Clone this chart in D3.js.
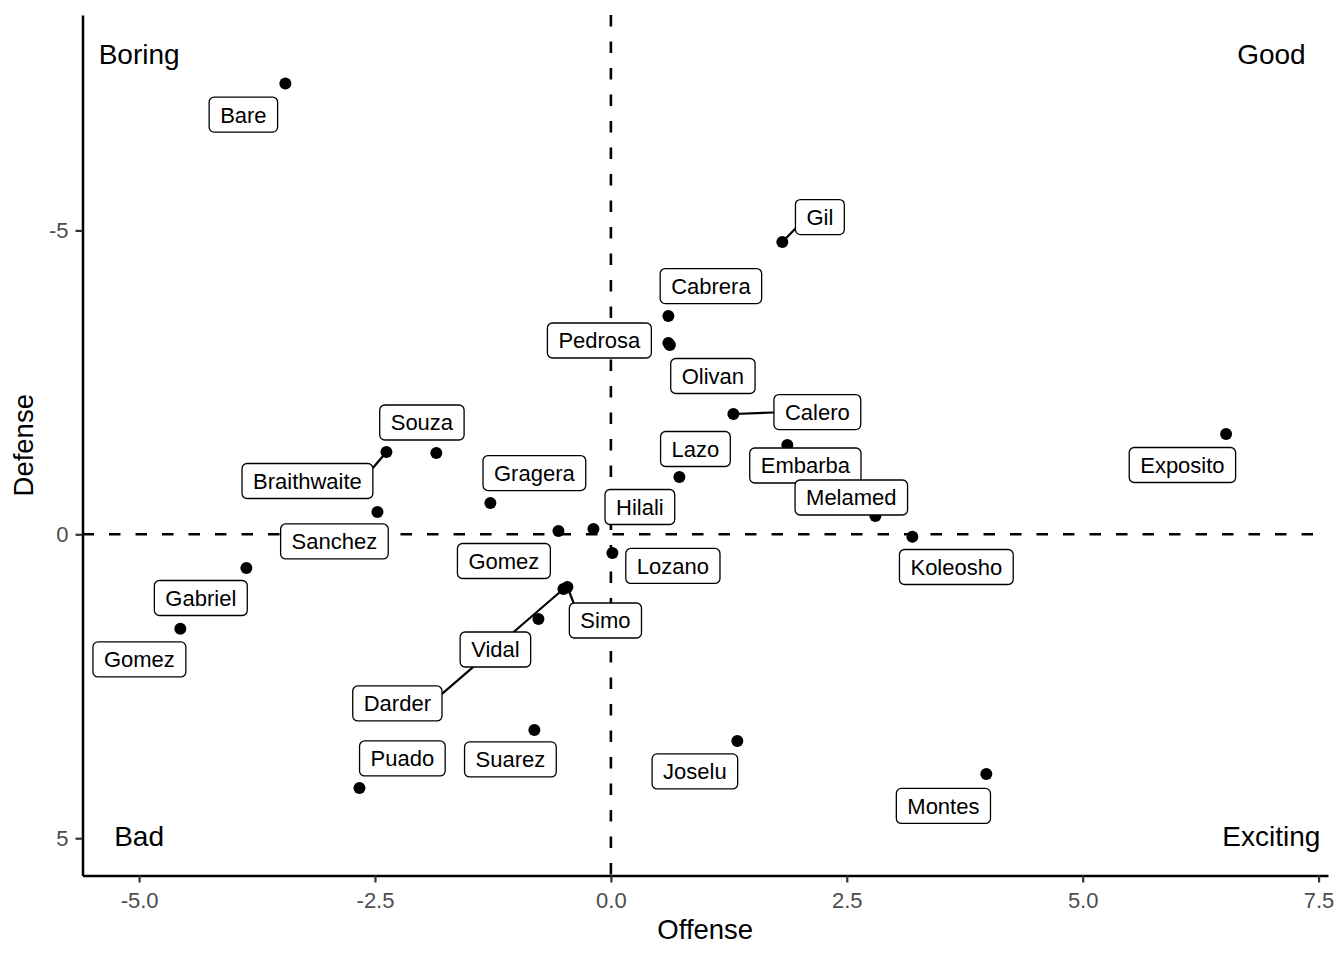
<!DOCTYPE html>
<html>
<head>
<meta charset="utf-8">
<script src="https://cdn.jsdelivr.net/npm/d3@7"></script>
<style>
  html, body { margin: 0; padding: 0; background: #fff; }
  svg { display: block; font-family: "Liberation Sans", Arial, Helvetica, sans-serif; }
</style>
</head>
<body>
<svg id="chart" width="1344" height="960"></svg>
<script>
// ---- data ----
const players = ["Bare","Gil","Cabrera","Pedrosa","Olivan","Calero","Embarba","Exposito","Lazo","Melamed",
  "Koleosho","Souza","Braithwaite","Sanchez","Gragera","Gomez","Hilali","Lozano","Gabriel","Gomez",
  "Darder","Simo","Vidal","Suarez","Puado","Joselu","Montes"];
const offense = [-3.450, 1.817, 0.609, 0.609, 0.625, 1.298, 1.870, 6.520, 0.726, 2.803,
  3.195, -1.850, -2.379, -2.474, -1.277, -0.556, -0.185, 0.016, -3.863, -4.563,
  -0.503, -0.461, -0.768, -0.811, -2.665, 1.340, 3.979];
const defense = [-7.418, -4.808, -3.590, -3.146, -3.113, -1.979, -1.469, -1.650, -0.942, -0.301,
  0.040, -1.337, -1.354, -0.367, -0.515, -0.054, -0.087, 0.308, 0.554, 1.554,
  0.900, 0.867, 1.393, 3.219, 4.173, 3.400, 3.943];
// repelled label centres (data units)
const labelOffense = [-3.895, 2.215, 1.060, -0.122, 1.081, 2.188, 2.061, 6.057, 0.896, 2.548,
  3.661, -2.003, -3.216, -2.930, -0.811, -1.134, 0.307, 0.657, -4.346, -4.997,
  -2.263, -0.058, -1.224, -1.065, -2.210, 0.890, 3.524];
const labelDefense = [-6.905, -5.219, -4.084, -3.188, -2.604, -2.011, -1.132, -1.140, -1.403, -0.605,
  0.538, -1.839, -0.877, 0.118, -1.008, 0.439, -0.449, 0.521, 1.048, 2.059,
  2.783, 1.418, 1.895, 3.704, 3.688, 3.901, 4.469];
const segmentPlayers = ["Gil","Calero","Braithwaite","Darder","Simo"];

const quadrantLabels = ["Boring","Good","Bad","Exciting"];
const quadrantX = [-5, 7, -5, 7];
const quadrantY = [-7.9, -7.9, 4.97, 4.97];

const xTicks = [-5, -2.5, 0, 2.5, 5, 7.5];
const yTicks = [-5, 0, 5];
const xTitle = "Offense";
const yTitle = "Defense";

// ---- layout ----
const panel = { left: 82.5, right: 1328, top: 15, bottom: 875.5 };
const svg = d3.select("#chart");

const x = d3.scaleLinear().domain([-5.6, 7.6]).range([panel.left, panel.right]);
const y = d3.scaleLinear().domain([-8.5435, 5.6135]).range([panel.top, panel.bottom]);

// reference lines
svg.append("line")
  .attr("x1", x(0)).attr("x2", x(0)).attr("y1", panel.top).attr("y2", panel.bottom)
  .attr("stroke", "#000").attr("stroke-width", 2.6).attr("stroke-dasharray", "11.5,15");
svg.append("line")
  .attr("x1", panel.left).attr("x2", panel.right).attr("y1", y(0)).attr("y2", y(0))
  .attr("stroke", "#000").attr("stroke-width", 2.6).attr("stroke-dasharray", "11.5,15");

// quadrant annotations
svg.append("g").selectAll("text").data(quadrantLabels).join("text")
  .attr("x", (d, i) => x(quadrantX[i]))
  .attr("y", (d, i) => y(quadrantY[i]))
  .attr("dy", "0.36em")
  .attr("text-anchor", "middle")
  .attr("font-size", 28)
  .attr("fill", "#000")
  .text(d => d);

// points
const idx = d3.range(players.length);
svg.append("g").selectAll("circle").data(idx).join("circle")
  .attr("cx", i => x(offense[i]))
  .attr("cy", i => y(defense[i]))
  .attr("r", 6)
  .attr("fill", "#000");

// labels
const labelG = svg.append("g");
idx.forEach(i => {
  const cx = x(labelOffense[i]), cy = y(labelDefense[i]);
  const g = labelG.append("g");
  const seg = g.append("line");
  const rect = g.append("rect");
  const t = g.append("text")
    .attr("x", cx).attr("y", cy).attr("dy", "0.36em")
    .attr("text-anchor", "middle")
    .attr("font-size", 22)
    .attr("fill", "#000")
    .text(players[i]);
  const tw = t.node().getComputedTextLength();
  const pad = 11;
  const w = tw + 2 * pad, h = 35;
  const x0 = cx - w / 2, x1 = cx + w / 2, y0 = cy - h / 2, y1 = cy + h / 2;
  rect.attr("x", x0).attr("y", y0).attr("width", w).attr("height", h)
    .attr("rx", 5).attr("ry", 5)
    .attr("fill", "#fff").attr("stroke", "#000").attr("stroke-width", 1.3);
  if (segmentPlayers.includes(players[i])) {
    const px = x(offense[i]), py = y(defense[i]);
    // aim at the nearest point of the text's centre line, clip at the box border
    const tx = Math.max(x0 + pad, Math.min(x1 - pad, px));
    const ty = cy;
    const dx = tx - px, dy = ty - py;
    let tmin = 1;
    const cand = [];
    if (dx !== 0) { cand.push((x0 - px) / dx, (x1 - px) / dx); }
    if (dy !== 0) { cand.push((y0 - py) / dy, (y1 - py) / dy); }
    cand.forEach(tt => {
      if (tt > 0 && tt < tmin) {
        const ex = px + tt * dx, ey = py + tt * dy;
        if (ex >= x0 - 0.01 && ex <= x1 + 0.01 && ey >= y0 - 0.01 && ey <= y1 + 0.01) tmin = tt;
      }
    });
    seg.attr("x1", px).attr("y1", py)
      .attr("x2", px + tmin * dx).attr("y2", py + tmin * dy)
      .attr("stroke", "#000").attr("stroke-width", 2.2);
  } else {
    seg.remove();
  }
});

// axes
const xAxis = d3.axisBottom(x).tickValues(xTicks).tickFormat(d => d.toFixed(1))
  .tickSizeInner(7).tickSizeOuter(0).tickPadding(7);
const yAxis = d3.axisLeft(y).tickValues(yTicks).tickFormat(d => String(d))
  .tickSizeInner(7).tickSizeOuter(0).tickPadding(7);

const gx = svg.append("g").attr("transform", `translate(0,${panel.bottom})`).call(xAxis);
const gy = svg.append("g").attr("transform", `translate(${panel.left},0)`).call(yAxis);
[gx, gy].forEach(g => {
  g.select(".domain").attr("stroke", "#000").attr("stroke-width", 2.5);
  g.selectAll(".tick line").attr("stroke", "#333").attr("stroke-width", 2.2);
  g.selectAll(".tick text").attr("fill", "#4D4D4D").attr("font-size", 22)
    .attr("font-family", "\"Liberation Sans\", Arial, Helvetica, sans-serif");
});
gx.selectAll(".tick text").attr("dy", "0.85em");

// axis titles
svg.append("text")
  .attr("x", (panel.left + panel.right) / 2).attr("y", 939)
  .attr("text-anchor", "middle").attr("font-size", 27.5).attr("fill", "#000")
  .text(xTitle);
svg.append("text")
  .attr("transform", `translate(33,${(panel.top + panel.bottom) / 2}) rotate(-90)`)
  .attr("text-anchor", "middle").attr("font-size", 27.5).attr("fill", "#000")
  .text(yTitle);
</script>
</body>
</html>
